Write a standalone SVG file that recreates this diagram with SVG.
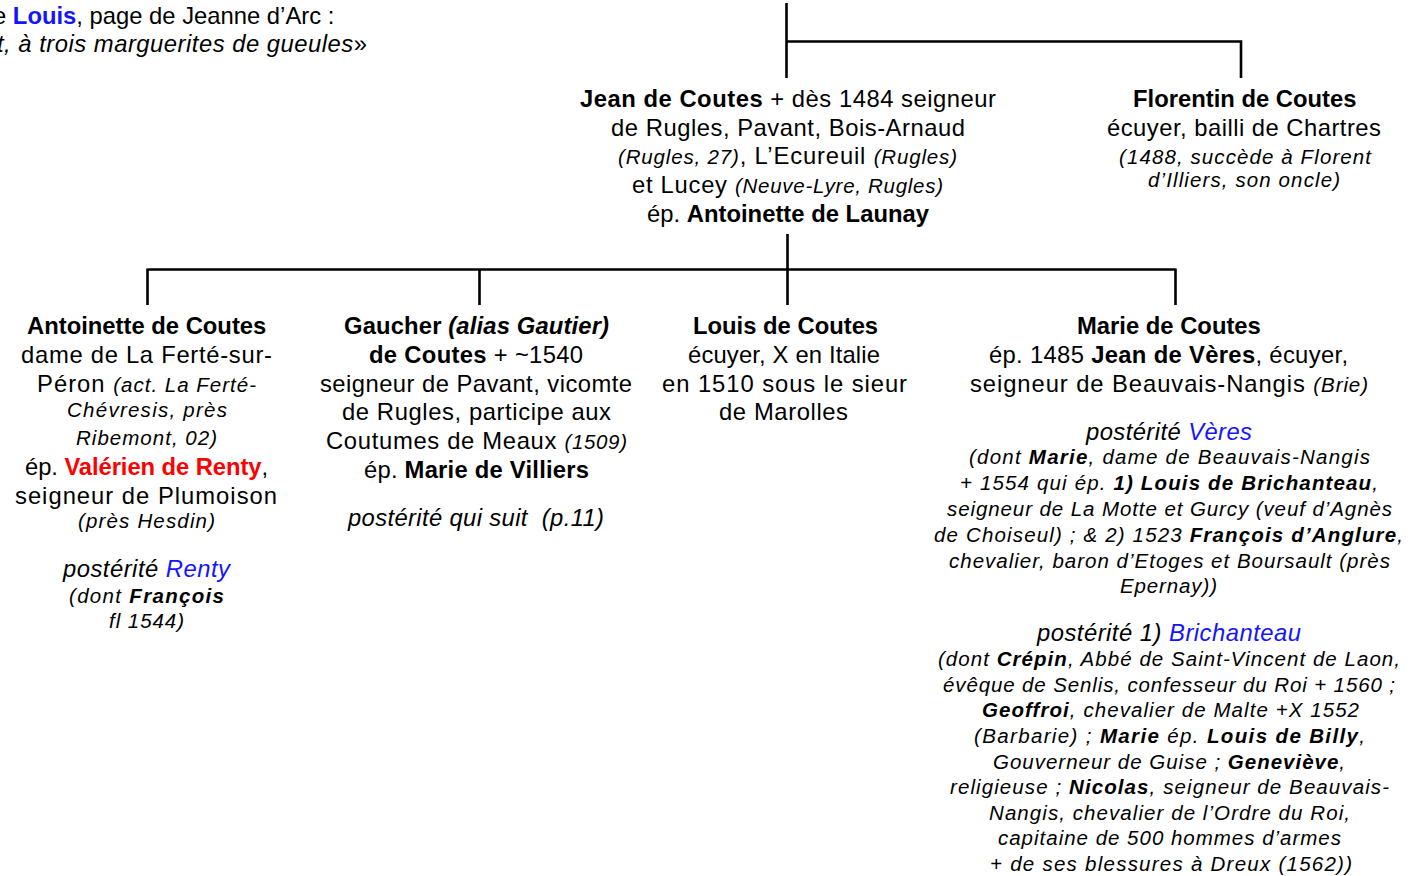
<svg xmlns="http://www.w3.org/2000/svg" width="1416" height="876" viewBox="0 0 1416 876">
<style>
text{font-family:"Liberation Sans",Arial,Helvetica,sans-serif;font-size:23.8px;fill:#000}
.b{font-weight:bold}
.i{font-style:italic}
.s{font-size:20.5px;font-style:italic}
.blue{fill:#1414ff}
.red{fill:#ff0000}
.ln{stroke:#000;stroke-width:2.6;fill:none}
</style>
<rect width="1416" height="876" fill="#fff"/>
<g id="connectors">
<path class="ln" d="M786.5 3V78M786.5 41.5H1241V78"/>
<path class="ln" d="M787.5 234V305M147.5 269.5H1175.5M147.5 268.5V305M479.5 269V305M1175.5 268.5V305"/>
</g>
<g id="header">
<text x="-7" y="24">e <tspan class="b blue">Louis</tspan>, page de Jeanne d’Arc :</text>
<text x="-3" y="52" textLength="370" class="i">t, à trois marguerites de gueules<tspan style="font-style:normal">»</tspan></text>
</g>
<g id="jean">
<text x="580" y="107" textLength="416"><tspan class="b">Jean de Coutes</tspan> + dès 1484 seigneur</text>
<text x="611" y="136" textLength="354">de Rugles, Pavant, Bois-Arnaud</text>
<text x="618" y="164" textLength="339"><tspan class="s">(Rugles, 27)</tspan>, L’Ecureuil <tspan class="s">(Rugles)</tspan></text>
<text x="632" y="193" textLength="311">et Lucey <tspan class="s">(Neuve-Lyre, Rugles)</tspan></text>
<text x="647" y="222" textLength="282">ép. <tspan class="b">Antoinette de Launay</tspan></text>
</g>
<g id="florentin">
<text x="1133" y="107" class="b">Florentin de Coutes</text>
<text x="1107" y="136" textLength="274">écuyer, bailli de Chartres</text>
<text x="1119" y="164" textLength="252" class="s">(1488, succède à Florent</text>
<text x="1148" y="187" textLength="192" class="s">d’Illiers, son oncle)</text>
</g>
<g id="antoinette">
<text x="27" y="334" class="b">Antoinette de Coutes</text>
<text x="21" y="363" textLength="251">dame de La Ferté-sur-</text>
<text x="37" y="392" textLength="219">Péron <tspan class="s">(act. La Ferté-</tspan></text>
<text x="67" y="417" textLength="160" class="s">Chévresis, près</text>
<text x="76" y="445" textLength="141" class="s">Ribemont, 02)</text>
<text x="25" y="475" textLength="243">ép. <tspan class="b red">Valérien de Renty</tspan>,</text>
<text x="15" y="504" textLength="262">seigneur de Plumoison</text>
<text x="78" y="528" textLength="137" class="s">(près Hesdin)</text>
<text x="63" y="577" textLength="167" class="i">postérité <tspan class="blue">Renty</tspan></text>
<text x="69" y="603" textLength="155" class="s">(dont <tspan class="b">François</tspan></text>
<text x="109" y="628" textLength="75" class="s">fl 1544)</text>
</g>
<g id="gaucher">
<text x="344" y="334" textLength="265" class="b">Gaucher <tspan class="i">(alias Gautier)</tspan></text>
<text x="369" y="363" textLength="214"><tspan class="b">de Coutes</tspan> + ~1540</text>
<text x="320" y="392" textLength="312">seigneur de Pavant, vicomte</text>
<text x="342" y="420" textLength="269">de Rugles, participe aux</text>
<text x="326" y="449" textLength="301">Coutumes de Meaux <tspan class="s">(1509)</tspan></text>
<text x="364" y="478" textLength="225">ép. <tspan class="b">Marie de Villiers</tspan></text>
<text x="348" y="526" textLength="256" class="i">postérité qui suit&#160; (p.11)</text>
</g>
<g id="louis">
<text x="693" y="334" class="b">Louis de Coutes</text>
<text x="688" y="363" textLength="192">écuyer, X en Italie</text>
<text x="662" y="392" textLength="245">en 1510 sous le sieur</text>
<text x="719" y="420" textLength="129">de Marolles</text>
</g>
<g id="marie">
<text x="1077" y="334" class="b">Marie de Coutes</text>
<text x="989" y="363" textLength="359">ép. 1485 <tspan class="b">Jean de Vères</tspan>, écuyer,</text>
<text x="970" y="392" textLength="398">seigneur de Beauvais-Nangis <tspan class="s">(Brie)</tspan></text>
<text x="1086" y="440" textLength="166" class="i">postérité <tspan class="blue">Vères</tspan></text>
<text x="969" y="464" textLength="401" class="s">(dont <tspan class="b">Marie</tspan>, dame de Beauvais-Nangis</text>
<text x="960" y="490" textLength="418" class="s">+ 1554 qui ép. <tspan class="b">1) Louis de Brichanteau</tspan>,</text>
<text x="947" y="516" textLength="445" class="s">seigneur de La Motte et Gurcy (veuf d’Agnès</text>
<text x="934" y="542" textLength="469" class="s">de Choiseul) ; &amp; 2) 1523 <tspan class="b">François d’Anglure</tspan>,</text>
<text x="949" y="568" textLength="441" class="s">chevalier, baron d’Etoges et Boursault (près</text>
<text x="1120" y="593" textLength="97" class="s">Epernay))</text>
</g>
<g id="brichanteau">
<text x="1037" y="641" textLength="264" class="i">postérité 1) <tspan class="blue">Brichanteau</tspan></text>
<text x="938" y="666" textLength="462" class="s">(dont <tspan class="b">Crépin</tspan>, Abbé de Saint-Vincent de Laon,</text>
<text x="943" y="692" textLength="452" class="s">évêque de Senlis, confesseur du Roi + 1560 ;</text>
<text x="982" y="717" textLength="377" class="s"><tspan class="b">Geoffroi</tspan>, chevalier de Malte +X 1552</text>
<text x="974" y="743" textLength="391" class="s">(Barbarie) ; <tspan class="b">Marie</tspan> ép. <tspan class="b">Louis de Billy</tspan>,</text>
<text x="993" y="769" textLength="352" class="s">Gouverneur de Guise ; <tspan class="b">Geneviève</tspan>,</text>
<text x="950" y="794" textLength="439" class="s">religieuse ; <tspan class="b">Nicolas</tspan>, seigneur de Beauvais-</text>
<text x="989" y="820" textLength="361" class="s">Nangis, chevalier de l’Ordre du Roi,</text>
<text x="998" y="845" textLength="343" class="s">capitaine de 500 hommes d’armes</text>
<text x="990" y="871" textLength="362" class="s">+ de ses blessures à Dreux (1562))</text>
</g>
</svg>
